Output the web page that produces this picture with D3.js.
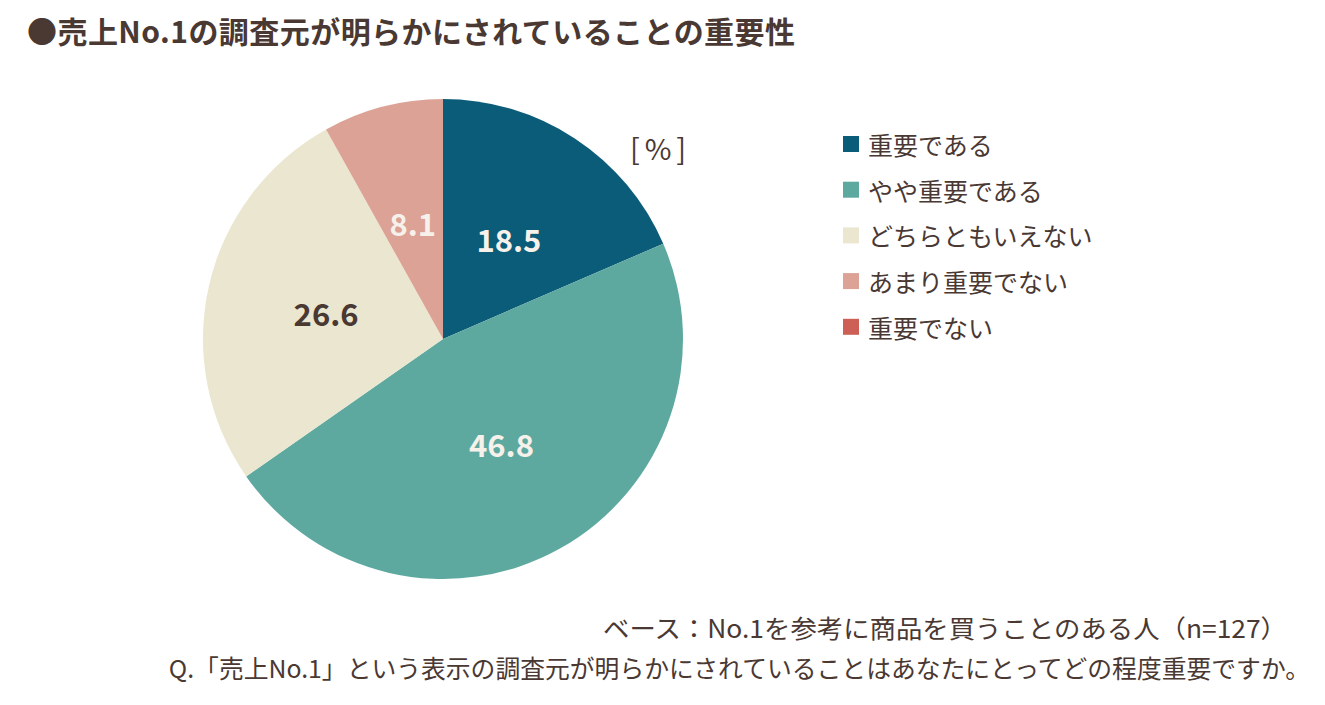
<!DOCTYPE html>
<html><head><meta charset="utf-8">
<script src="https://cdn.jsdelivr.net/npm/d3@7"></script>
<style>body{margin:0;background:#fff;} text{font-family:"Noto Sans CJK JP","Noto Sans",sans-serif;}</style>
</head><body>
<svg id="c" width="1325" height="705"></svg>
<script>
const categories = ["重要である","やや重要である","どちらともいえない","あまり重要でない","重要でない"];
const values = [18.5, 46.8, 26.6, 8.1, 0];
const colors = ["#0b5c78","#5ea99f","#eae6cf","#dca295","#cd5f57"];
const labelColors = ["#f6f1ea","#f6f1ea","#4a3833","#f6f1ea","#f6f1ea"];
const title = "●売上No.1の調査元が明らかにされていることの重要性";
const note1 = "ベース：No.1を参考に商品を買うことのある人（n=127）";
const note2 = "Q.「売上No.1」という表示の調査元が明らかにされていることはあなたにとってどの程度重要ですか。";
const txt = "#4a3833";

const svg = d3.select("#c");
svg.append("text").attr("x",27).attr("y",43).attr("font-size",30).attr("font-weight","bold")
  .attr("fill",txt).attr("textLength",768).attr("lengthAdjust","spacing").text(title);

const cx=443, cy=339, R=240;
const g = svg.append("g").attr("transform",`translate(${cx},${cy})`);
const pie = d3.pie().sort(null).value(d=>d)(values);
const arc = d3.arc().innerRadius(0).outerRadius(R);
const lab = d3.arc().innerRadius(R/2).outerRadius(R/2);
g.selectAll("path").data(pie).join("path").attr("d",arc).attr("fill",(d,i)=>colors[i]);
g.selectAll("text.v").data(pie.filter(d=>d.value>0)).join("text").attr("class","v")
  .attr("transform",d=>`translate(${lab.centroid(d)})`).attr("text-anchor","middle")
  .attr("dominant-baseline","central").attr("font-size",31).attr("font-weight","bold")
  .attr("fill",d=>labelColors[d.index]).text(d=>d.value.toFixed(1));

svg.append("text").attr("x",630).attr("y",160).attr("font-size",29).attr("fill",txt)
  .attr("textLength",56).attr("lengthAdjust","spacing").text("[%]");

const leg = svg.append("g");
categories.forEach((c,i)=>{
  const y = 144 + i*45.7;
  leg.append("rect").attr("x",843).attr("y",y-8).attr("width",16).attr("height",16).attr("fill",colors[i]);
  leg.append("text").attr("x",868).attr("y",y).attr("dominant-baseline","central")
    .attr("font-size",25).attr("fill",txt).text(c);
});

svg.append("text").attr("x",603).attr("y",638).attr("font-size",25).attr("fill",txt)
  .attr("textLength",684).attr("lengthAdjust","spacingAndGlyphs").text(note1);
svg.append("text").attr("x",1310).attr("y",678).attr("text-anchor","end").attr("font-size",24.8).attr("fill",txt)
  .text(note2);
</script>
</body></html>
